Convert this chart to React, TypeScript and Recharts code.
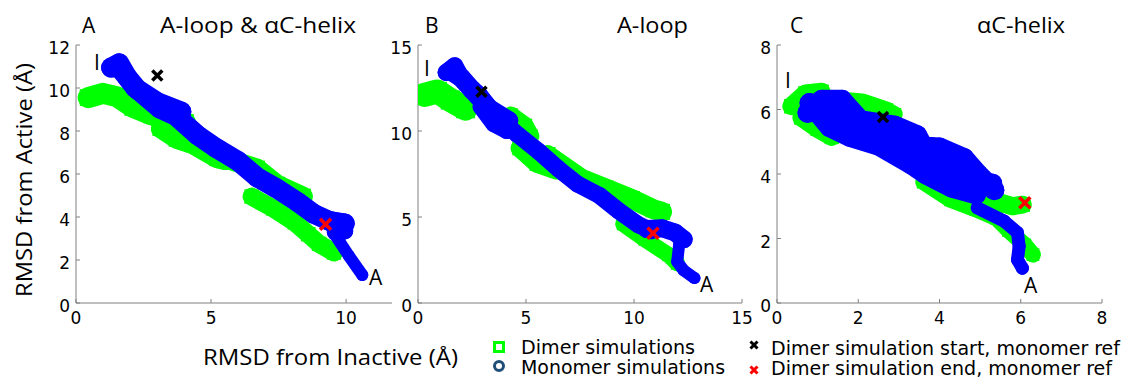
import React from 'react';
import { ScatterChart, Scatter, XAxis, YAxis } from 'recharts';

type Pt = [number, number];

const GREEN = '#00FF00';
const BLUE = '#0000FF';

// A: A-loop & aC-helix  (x = RMSD from inactive, y = RMSD from active)
const aDimer1: Pt[] = [[0.45, 9.55], [1.0, 9.75], [1.5, 9.6], [2.1, 9.1], [2.8, 8.75], [3.5, 8.45], [4.05, 8.4]];
const aDimer2: Pt[] = [[3.1, 8.1], [3.7, 7.6], [4.3, 7.35], [5.2, 6.7], [5.5, 6.6]];
const aDimer3: Pt[] = [[5.6, 6.7], [6.7, 6.25], [7.45, 5.5], [8.4, 4.95]];
const aDimer4: Pt[] = [[6.5, 4.95], [7.3, 4.4], [8.1, 3.75], [8.6, 3.2], [9.0, 2.75], [9.55, 2.35]];
const aMono1: Pt[] = [[1.3, 10.95], [1.6, 11.15], [1.9, 10.5], [2.3, 9.9], [3.1, 9.05], [3.7, 8.7], [4.5, 7.8], [5.2, 7.2], [6.0, 6.6], [6.7, 5.85], [7.4, 5.35], [8.2, 4.7], [8.8, 4.15], [9.4, 3.8], [9.95, 3.7]];
const aMono2: Pt[] = [[1.7, 10.8], [2.2, 10.0], [3.0, 9.35], [3.9, 8.9]];
const aMono3: Pt[] = [[9.0, 4.0], [9.9, 3.75], [9.95, 3.35], [9.6, 3.3]];
const aMono4: Pt[] = [[9.55, 3.25], [10.1, 2.2], [10.6, 1.3]];
const aStart: Pt[] = [[3.01, 10.58]];
const aEnd: Pt[] = [[9.24, 3.66]];

// B: A-loop
const bDimer1: Pt[] = [[0.3, 12.1], [0.9, 12.3], [1.5, 11.8], [2.2, 11.3]];
const bDimer2: Pt[] = [[4.3, 10.9], [4.95, 10.3], [5.2, 9.7]];
const bDimer3: Pt[] = [[4.7, 9.0], [5.5, 8.1], [6.4, 7.7]];
const bDimer4: Pt[] = [[6.0, 8.6], [7.6, 7.2], [8.7, 6.65], [9.9, 6.05], [10.9, 5.45], [11.3, 5.3]];
const bDimer5: Pt[] = [[9.5, 4.6], [10.5, 3.7], [11.6, 2.8], [12.0, 2.3]];
const bMono1: Pt[] = [[1.3, 13.4], [1.7, 13.8], [2.1, 12.9], [2.85, 12.1], [3.6, 10.9], [4.6, 9.8], [5.6, 8.8], [6.5, 7.8], [7.4, 6.9], [8.4, 6.25], [9.3, 5.35], [10.2, 4.55], [10.8, 4.2]];
const bMono2: Pt[] = [[1.5, 13.5], [2.0, 13.1], [2.5, 12.4], [3.3, 11.3], [4.2, 10.6]];
const bMono3: Pt[] = [[2.9, 11.4], [3.5, 10.4], [4.1, 10.0]];
const bMono4: Pt[] = [[10.6, 4.3], [11.3, 4.35], [11.9, 4.1], [12.3, 3.7]];
const bMono5: Pt[] = [[12.1, 3.5], [12.0, 2.4], [12.3, 1.9], [12.8, 1.45]];
const bStart: Pt[] = [[2.94, 12.28]];
const bEnd: Pt[] = [[10.88, 4.06]];

// C: aC-helix
const cDimer1: Pt[] = [[0.35, 6.1], [0.7, 6.5], [1.1, 6.55]];
const cDimer2: Pt[] = [[0.6, 5.75], [1.0, 5.4], [1.35, 5.15]];
const cDimer3: Pt[] = [[1.6, 6.3], [2.1, 6.25], [2.7, 6.0], [2.9, 5.85]];
const cDimer4: Pt[] = [[3.6, 3.75], [4.27, 3.2], [4.9, 2.9], [5.4, 2.63], [5.7, 2.25], [6.1, 1.8], [6.3, 1.5]];
const cDimer5: Pt[] = [[5.0, 3.3], [5.4, 3.15], [5.8, 3.0], [6.05, 3.05]];
const cMono1: Pt[] = [[0.75, 5.9], [1.1, 6.3], [1.6, 6.3], [2.05, 5.67], [2.9, 5.5], [3.45, 5.2], [3.6, 4.85], [4.0, 4.82], [4.6, 4.5], [4.95, 4.0], [5.35, 3.5]];
const cMono2: Pt[] = [[0.8, 6.2], [1.3, 5.45], [1.8, 5.15], [2.5, 4.88], [3.3, 4.3], [3.65, 4.0], [4.3, 3.58], [4.9, 3.37]];
const cMono3: Pt[] = [[1.2, 5.9], [2.0, 5.4], [2.8, 5.1], [3.5, 4.6], [4.2, 4.2], [4.8, 3.8], [5.3, 3.7]];
const cMono4: Pt[] = [[4.93, 2.95], [5.59, 2.54], [5.92, 2.18], [5.96, 1.76], [5.92, 1.34], [6.04, 1.08]];
const cStart: Pt[] = [[2.61, 5.77]];
const cEnd: Pt[] = [[6.1, 3.11]];

const panels = [
  {
    left: 26, width: 376, xDomain: [0, 11.7], xTicks: [0, 5, 10], yDomain: [0, 12], yTicks: [0, 2, 4, 6, 8, 10, 12],
    dimer: [aDimer1, aDimer2, aDimer3, aDimer4], dimerW: [21, 18, 20, 18],
    mono: [aMono1, aMono2, aMono3, aMono4], monoW: [20, 20, 17, 12],
    start: aStart, end: aEnd,
  },
  {
    left: 368, width: 384, xDomain: [0, 15], xTicks: [0, 5, 10, 15], yDomain: [0, 15], yTicks: [0, 5, 10, 15],
    dimer: [bDimer1, bDimer2, bDimer3, bDimer4, bDimer5], dimerW: [24, 18, 18, 20, 16],
    mono: [bMono1, bMono2, bMono3, bMono4, bMono5], monoW: [17, 19, 16, 18, 12],
    start: bStart, end: bEnd,
  },
  {
    left: 727, width: 385, xDomain: [0, 8], xTicks: [0, 2, 4, 6, 8], yDomain: [0, 8], yTicks: [0, 2, 4, 6, 8],
    dimer: [cDimer1, cDimer2, cDimer3, cDimer4, cDimer5], dimerW: [18, 18, 16, 16, 18],
    mono: [cMono1, cMono2, cMono3, cMono4], monoW: [20, 20, 20, 13],
    start: cStart, end: cEnd,
  },
];

const toObj = (pts: Pt[]) => pts.map(([x, y]) => ({ x, y }));

const tickStyle = { fill: '#000', fontSize: 17, fontFamily: 'DejaVu Sans' };

const squareShape = (w: number) => (props: any) => (
  <rect x={props.cx - w * 0.4} y={props.cy - w * 0.4} width={w * 0.8} height={w * 0.8} fill={GREEN} />
);
const circleShape = (w: number) => (props: any) => (
  <circle cx={props.cx} cy={props.cy} r={w / 2} fill={BLUE} />
);
const crossShape = (color: string, r: number) => (props: any) => (
  <g stroke={color} strokeWidth={3.5}>
    <line x1={props.cx - r} y1={props.cy - r} x2={props.cx + r} y2={props.cy + r} />
    <line x1={props.cx - r} y1={props.cy + r} x2={props.cx + r} y2={props.cy - r} />
  </g>
);

function Panel({ p }: { p: any }) {
  return (
    <div style={{ position: 'absolute', left: p.left, top: 35 }}>
      <ScatterChart width={p.width} height={298} margin={{ top: 10, right: 10, bottom: 0, left: 0 }}>
        <XAxis type="number" dataKey="x" domain={p.xDomain} ticks={p.xTicks} interval={0} allowDataOverflow
          height={30} tickSize={-4} tickMargin={13} stroke="#808080" tick={tickStyle} />
        <YAxis type="number" dataKey="y" domain={p.yDomain} ticks={p.yTicks} interval={0} allowDataOverflow
          width={50} tickSize={-4} tickMargin={10} stroke="#808080" tick={{ ...tickStyle, dy: 3 }} />
        {p.dimer.map((d: Pt[], i: number) => (
          <Scatter key={'d' + i} name="Dimer simulations" data={toObj(d)} fill={GREEN} isAnimationActive={false}
            line={{ stroke: GREEN, strokeWidth: p.dimerW[i], strokeLinejoin: 'round', strokeLinecap: 'round' }}
            shape={squareShape(p.dimerW[i])} />
        ))}
        {p.mono.map((d: Pt[], i: number) => (
          <Scatter key={'m' + i} name="Monomer simulations" data={toObj(d)} fill={BLUE} isAnimationActive={false}
            line={{ stroke: BLUE, strokeWidth: p.monoW[i], strokeLinejoin: 'round', strokeLinecap: 'round' }}
            shape={circleShape(p.monoW[i])} />
        ))}
        <Scatter name="start" data={toObj(p.start)} isAnimationActive={false} shape={crossShape('#000', 5)} />
        <Scatter name="end" data={toObj(p.end)} isAnimationActive={false} shape={crossShape('#FF0000', 5.5)} />
      </ScatterChart>
    </div>
  );
}

const labelFont = { fontFamily: 'Open Sans', fontSize: 21, fill: '#000' };
const legendFont = { fontFamily: "'Liberation Sans Narrow', 'DejaVu Sans Condensed', sans-serif", fontSize: 19, fill: '#000' };

export default function App() {
  return (
    <div style={{ position: 'absolute', left: 0, top: 0, width: 1131, height: 381, background: '#fff', overflow: 'hidden' }}>
      {panels.map((p, i) => <Panel key={i} p={p} />)}
      <svg width={1131} height={381} style={{ position: 'absolute', left: 0, top: 0, pointerEvents: 'none' }}>
        <g {...labelFont}>
          <text x={82} y={33}>A</text>
          <text x={160} y={33} textLength={196} lengthAdjust="spacingAndGlyphs">A-loop &amp; αC-helix</text>
          <text x={425} y={33}>B</text>
          <text x={617} y={33} textLength={71} lengthAdjust="spacingAndGlyphs">A-loop</text>
          <text x={790} y={33}>C</text>
          <text x={977} y={33} textLength={88} lengthAdjust="spacingAndGlyphs">αC-helix</text>
          <text x={94} y={70}>I</text>
          <text x={369} y={285}>A</text>
          <text x={424} y={76}>I</text>
          <text x={700} y={292}>A</text>
          <text x={785} y={88}>I</text>
          <text x={1024} y={293}>A</text>
          <text transform="translate(32,180) rotate(-90)" textAnchor="middle" textLength={234} lengthAdjust="spacingAndGlyphs">RMSD from Active (Å)</text>
          <text x={203} y={365} textLength={255} lengthAdjust="spacingAndGlyphs">RMSD from Inactive (Å)</text>
        </g>
        <rect x={494.5} y={342.5} width={9} height={9} fill="none" stroke={GREEN} strokeWidth={3} />
        <circle cx={499} cy={366} r={4.5} fill="none" stroke="#1F4E79" strokeWidth={3} />
        <g stroke="#000" strokeWidth={3}>
          <line x1={750.5} y1={341.5} x2={757.5} y2={348.5} />
          <line x1={750.5} y1={348.5} x2={757.5} y2={341.5} />
        </g>
        <g stroke="#FF0000" strokeWidth={3}>
          <line x1={750.5} y1={366.5} x2={757.5} y2={373.5} />
          <line x1={750.5} y1={373.5} x2={757.5} y2={366.5} />
        </g>
        <g {...legendFont}>
          <text x={521} y={354} textLength={174} lengthAdjust="spacingAndGlyphs">Dimer simulations</text>
          <text x={521} y={374} textLength={204} lengthAdjust="spacingAndGlyphs">Monomer simulations</text>
          <text x={771} y={355} textLength={349} lengthAdjust="spacingAndGlyphs">Dimer simulation start, monomer ref</text>
          <text x={771} y={375} textLength={341} lengthAdjust="spacingAndGlyphs">Dimer simulation end, monomer ref</text>
        </g>
      </svg>
    </div>
  );
}
